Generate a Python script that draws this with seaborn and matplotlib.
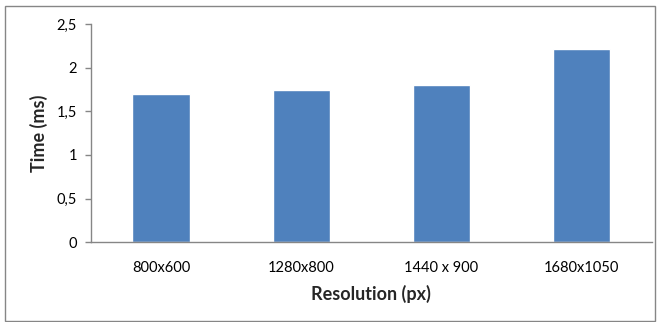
import matplotlib
matplotlib.use("Agg")
import matplotlib.pyplot as plt
import seaborn as sns
import pandas as pd
from matplotlib.patches import Rectangle
from matplotlib.ticker import FuncFormatter

categories = ["800x600", "1280x800", "1440 x 900", "1680x1050"]
times = [1.70, 1.74, 1.80, 2.21]
yticks = [0, 0.5, 1, 1.5, 2, 2.5]

sns.set_style("white")
plt.rcParams['font.family'] = ['Lato', 'DejaVu Sans']

df = pd.DataFrame({"Resolution": categories, "Time": times})

fig = plt.figure(figsize=(6.62, 3.22), dpi=100)
ax = fig.add_axes([0.1375, 0.248, 0.847, 0.677])
sns.barplot(data=df, x="Resolution", y="Time", color="#4F81BD", width=0.41,
            saturation=1, ax=ax)

ax.set_ylim(0, 2.5)
ax.set_yticks(yticks)
ax.yaxis.set_major_formatter(FuncFormatter(lambda v, p: ("%g" % v).replace(".", ",")))
ax.set_xlim(-0.5, 3.5)

for s in ["top", "right"]:
    ax.spines[s].set_visible(False)
for s in ["left", "bottom"]:
    ax.spines[s].set_color("#868686")
    ax.spines[s].set_linewidth(1.0)

ax.tick_params(axis="y", which="major", left=True, length=4, width=1, color="#868686",
               labelsize=10.5, labelcolor="#000000", pad=6)
ax.tick_params(axis="x", bottom=False, labelsize=10.5, labelcolor="#000000", pad=10)

ax.set_xlabel("Resolution (px)", fontsize=13, fontweight="bold", labelpad=7)
ax.set_ylabel("Time (ms)", fontsize=13, fontweight="bold", labelpad=6)

fig.patches.append(Rectangle((5 / 662, 1 / 322), 650 / 662, 315 / 322,
                             transform=fig.transFigure, fill=False,
                             edgecolor="#868686", linewidth=1.0))

fig.savefig("out.png", dpi=100)
